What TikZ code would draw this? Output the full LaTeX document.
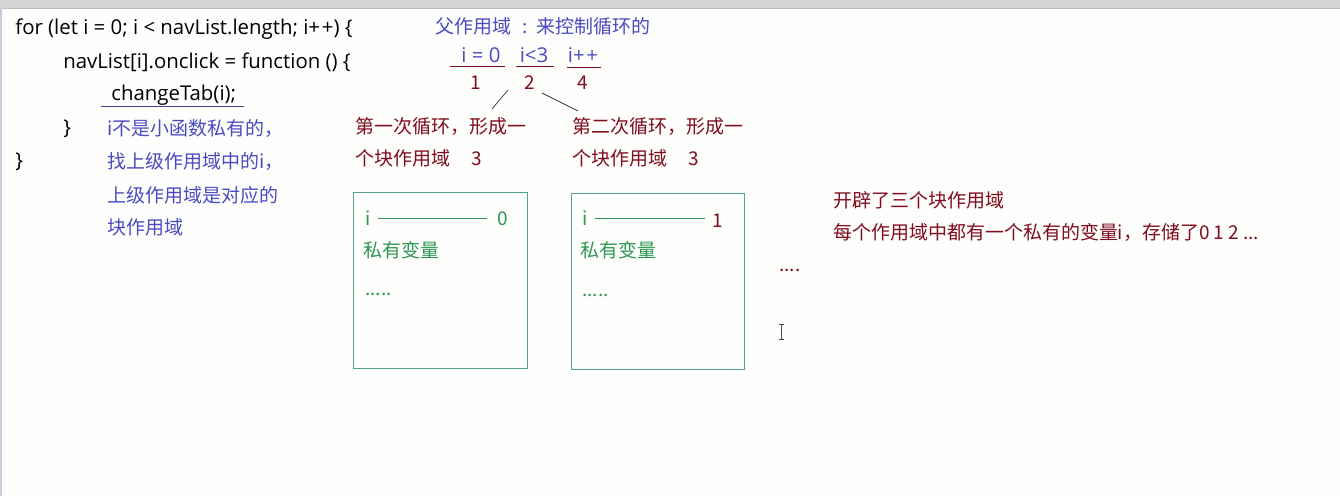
\documentclass[tikz,border=0pt]{standalone}
\usepackage{fontspec}
\setmainfont{Noto Sans CJK SC}
\newfontfamily\codefont{Open Sans}
\usepackage{xcolor}
\usepackage{tikz}

\definecolor{paper}{RGB}{254,254,252}
\definecolor{barfill}{RGB}{214,214,214}
\definecolor{edgeblue}{RGB}{196,206,222}
\definecolor{notblue}{RGB}{74,74,196}
\definecolor{loopred}{RGB}{128,12,28}
\definecolor{privgreen}{RGB}{44,150,84}
\definecolor{boxteal}{RGB}{84,162,136}
\definecolor{underblue}{RGB}{64,64,150}

\begin{document}
\begin{tikzpicture}[x=0.02cm, y=-0.02cm,
    txt/.style={anchor=west, inner sep=0pt, font=\fontsize{10.8}{13}\selectfont},
    code/.style={txt, text=black, font=\fontsize{11.6}{14}\selectfont\codefont},
    note/.style={txt, text=notblue},
    loopnote/.style={txt, text=loopred},
    priv/.style={txt, text=privgreen},
    num/.style={txt, anchor=center, text=loopred},
    expr/.style={txt, anchor=center, text=notblue, font=\fontsize{11.6}{14}\selectfont\codefont}]
    \useasboundingbox (0,0) rectangle (1340,496);
    \fill[paper] (0,0) rectangle (1340,496);
    % window edges
    \fill[barfill] (0,0) rectangle (1340,8);
    \draw[gray!50] (0,8) -- (1340,8);
    \fill[edgeblue] (0,8) rectangle (2,496);

    % Code
    \node[code] (forline) at (15,29) {for (let i = 0; i < navList.length; i+\kern1pt+) \{};
    \node[code] (clickline) at (63,62) {navList[i].onclick = function () \{};
    \node[code] (calltab) at (111,95) {changeTab(i);};
    \draw[underblue] (101,106) -- (244,106);
    \node[code] (innerbrace) at (63,129) {\}};
    \node[code] (outerbrace) at (15,162) {\}};

    % Comment on i
    \node[note] (noteone) at (107,129) {i不是小函数私有的，};
    \node[note] (notetwo) at (107,162) {找上级作用域中的i，};
    \node[note] (notethree) at (107,195) {上级作用域是对应的};
    \node[note] (notefour) at (107,227) {块作用域};

    % Parent scope
    \node[note] (parent) at (435,26) {父作用域\hspace{0.6em}:\hspace{0.45em}来控制循环的};
    \node[expr] (initexpr) at (481,55) {i = 0};
    \node[expr] (testexpr) at (534,55) {i<3};
    \node[expr] (incexpr) at (583,55) {i+\kern1pt+};
    \draw[loopred] (450,66) -- (505,66);
    \draw[loopred] (516,66) -- (554,66);
    \draw[loopred] (567,67) -- (601,67);
    \node[num] (numone) at (476,83) {1};
    \node[num] (numtwo) at (530,83) {2};
    \node[num] (numfour) at (583,83) {4};

    % Loop scopes
    \node[loopnote] (firstloop) at (355,127) {第一次循环，形成一};
    \node[loopnote] (firstloopb) at (355,158) {个块作用域\hspace{1.1em}3};
    \node[loopnote] (secondloop) at (572,127) {第二次循环，形成一};
    \node[loopnote] (secondloopb) at (572,158) {个块作用域\hspace{1.1em}3};
    \coordinate (twoleft) at (508,90);
    \coordinate (tworight) at (542,93);
    \coordinate (firsttip) at (492,109);
    \coordinate (secondtip) at (578,111);
    \draw[black!80, thin] (twoleft) -- (firsttip);
    \draw[black!80, thin] (tworight) -- (secondtip);

    % Block scope 1
    \draw[boxteal] (353,192) rectangle (527,368);
    \node[priv] (ione) at (365,218) {i};
    \node[priv, anchor=center] (valzero) at (503,219) {0};
    \draw[privgreen] (378,218) -- (487,218);
    \node[priv] (privone) at (363,250) {私有变量};
    \node[priv] (dotsone) at (365,294) {.....};

    % Block scope 2
    \draw[boxteal] (571,193) rectangle (744,369);
    \node[priv] (itwo) at (582,218) {i};
    \node[num] (valone) at (718,221) {1};
    \draw[privgreen] (595,218) -- (705,218);
    \node[priv] (privtwo) at (580,250) {私有变量};
    \node[priv] (dotstwo) at (582,295) {.....};

    % Summary
    \node[loopnote] (more) at (779,270) {....};
    \node[loopnote] (sumone) at (833,200) {开辟了三个块作用域};
    \node[loopnote] (sumtwo) at (833,232) {每个作用域中都有一个私有的变量i，存储了0 1 2 ...};

    % text cursor
    \draw[black!70] (781,324) -- (781,339);
    \draw[black!70] (778.5,324) -- (783.5,324);
    \draw[black!70] (778.5,339) -- (783.5,339);
\end{tikzpicture}
\end{document}
